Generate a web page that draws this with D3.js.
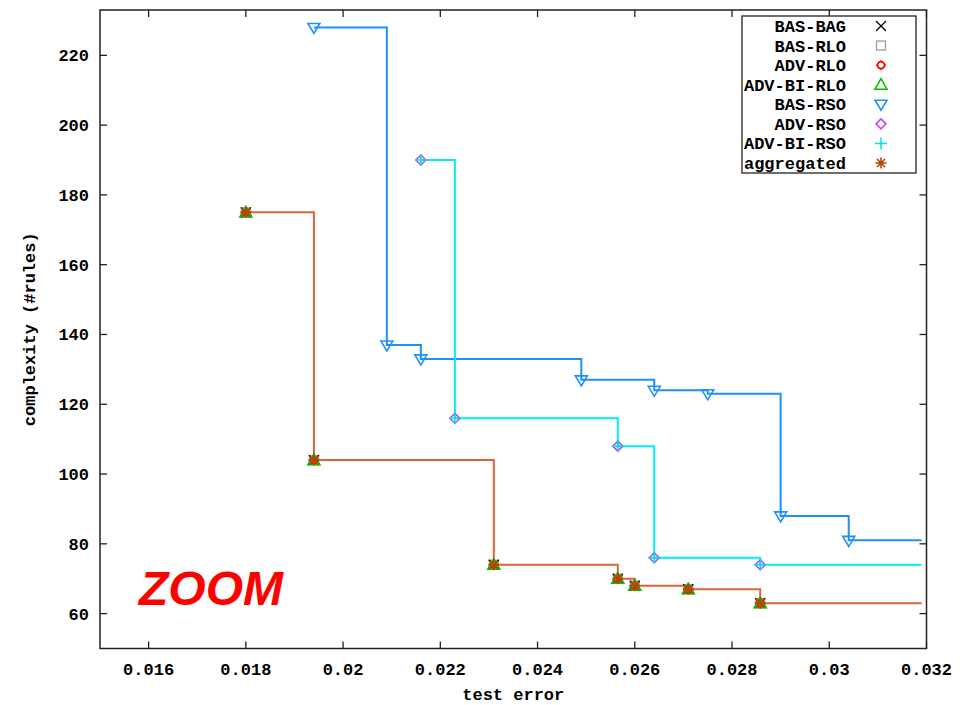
<!DOCTYPE html>
<html>
<head>
<meta charset="utf-8">
<script src="https://cdn.jsdelivr.net/npm/d3@7"></script>
<style>
  body { margin: 0; background: #fff; }
  svg text { font-family: "Liberation Mono", "DejaVu Sans Mono", monospace; font-weight: bold; font-size: 17px; fill: #000; }
</style>
</head>
<body>
<svg id="chart" width="975" height="705"></svg>
<script>

// BAS-RSO front
const basRsoErr   = [0.0194, 0.0209, 0.0216, 0.0249, 0.0264, 0.0275, 0.0290, 0.0304];
const basRsoRules = [228, 137, 133, 127, 124, 123, 88, 81];

// ADV-RSO / ADV-BI-RSO front (same points)
const advRsoErr   = [0.0216, 0.0223, 0.02565, 0.0264, 0.02858];
const advRsoRules = [190, 116, 108, 76, 74];

// RLO / BAG / aggregated front (same points)
const aggErr   = [0.0180, 0.0194, 0.0231, 0.02565, 0.0260, 0.0271, 0.02858];
const aggRules = [175, 104, 74, 70, 68, 67, 63];

const lineEnd = 0.0319;

const xTicks = [0.016, 0.018, 0.02, 0.022, 0.024, 0.026, 0.028, 0.03, 0.032];
const yTicks = [60, 80, 100, 120, 140, 160, 180, 200, 220];

const legendItems = [
  { label: "BAS-BAG",    symbol: "x",        color: "#000000" },
  { label: "BAS-RLO",    symbol: "square",   color: "#a0a0a0" },
  { label: "ADV-RLO",    symbol: "circle",   color: "#ff0000" },
  { label: "ADV-BI-RLO", symbol: "triangle", color: "#00c000" },
  { label: "BAS-RSO",    symbol: "tridown",  color: "#1e90ff" },
  { label: "ADV-RSO",    symbol: "diamond",  color: "#c040ff" },
  { label: "ADV-BI-RSO", symbol: "plus",     color: "#00e0e0" },
  { label: "aggregated", symbol: "star",     color: "#c04000" }
];

const margin = { top: 10, right: 49, bottom: 56, left: 100 };
const width = 975, height = 705;

const svg = d3.select("#chart");

const xScale = d3.scaleLinear()
  .domain([0.015, 0.032])
  .range([margin.left, width - margin.right + 0.5]);

const yScale = d3.scaleLinear()
  .domain([50, 233])
  .range([height - margin.bottom - 0.5, margin.top]);

const x0 = xScale.range()[0], x1 = xScale.range()[1];
const y0 = yScale.range()[0], y1 = yScale.range()[1];

// Draw a point symbol centred at (cx, cy)
const drawSymbol = (g, type, color, cx, cy) => {
  const s = g.append("g").attr("transform", `translate(${cx},${cy})`)
    .attr("fill", "none").attr("stroke", color).attr("stroke-width", 1.3);
  if (type === "x") {
    s.append("path").attr("d", "M-5,-5L5,5M-5,5L5,-5");
  } else if (type === "square") {
    s.append("rect").attr("x", -4.5).attr("y", -4.5).attr("width", 9).attr("height", 9);
  } else if (type === "circle") {
    s.append("circle").attr("r", 3.5).attr("stroke-width", 1.8);
    s.append("path").attr("d", "M0,-5V-3.5M0,5V3.5M-5,0H-3.5M5,0H3.5");
  } else if (type === "triangle") {
    s.append("path").attr("d", "M0,-6L6,4.5H-6Z").attr("stroke-width", 1.6);
  } else if (type === "tridown") {
    s.append("path").attr("d", "M-6,-4H6L0,6Z").attr("stroke-width", 1.6);
  } else if (type === "diamond") {
    s.append("path").attr("d", "M0,-5L5,0L0,5L-5,0Z").attr("stroke-width", 1.5);
  } else if (type === "plus") {
    s.append("path").attr("d", "M0,-6V6M-6,0H6").attr("stroke-width", 1.5);
  } else if (type === "star") {
    s.append("path").attr("d", "M0,-5.5V5.5M-5.5,0H5.5M-4,-4L4,4M-4,4L4,-4").attr("stroke-width", 1.6);
  }
};

// Step lines (horizontal first, then down), extended to the right
const stepLine = d3.line()
  .x(d => xScale(d[0]))
  .y(d => yScale(d[1]))
  .curve(d3.curveStepAfter);

const fronts = [
  { err: basRsoErr, rules: basRsoRules, color: "#2090f8" },
  { err: advRsoErr, rules: advRsoRules, color: "#00f0f0" },
  { err: aggErr,    rules: aggRules,    color: "#d8663a" }
];

fronts.forEach(f => {
  const pts = f.err.map((e, i) => [e, f.rules[i]]);
  pts.push([lineEnd, f.rules[f.rules.length - 1]]);
  svg.append("path")
    .datum(pts)
    .attr("fill", "none")
    .attr("stroke", f.color)
    .attr("stroke-width", 2)
    .attr("d", stepLine);
});

// Points
const pointLayer = svg.append("g");
const pointSets = [
  { err: aggErr,    rules: aggRules,    items: ["BAS-RLO", "BAS-BAG", "ADV-RLO", "ADV-BI-RLO", "aggregated"] },
  { err: basRsoErr, rules: basRsoRules, items: ["BAS-RSO"] },
  { err: advRsoErr, rules: advRsoRules, items: ["ADV-RSO", "ADV-BI-RSO"] }
];
pointSets.forEach(set => {
  set.items.forEach(name => {
    const item = legendItems.find(l => l.label === name);
    set.err.forEach((e, i) => {
      drawSymbol(pointLayer, item.symbol, item.color, xScale(e), yScale(set.rules[i]));
    });
  });
});

// Frame
svg.append("rect")
  .attr("x", x0).attr("y", y1)
  .attr("width", x1 - x0).attr("height", y0 - y1)
  .attr("fill", "none").attr("stroke", "#222").attr("stroke-width", 1.5);

// Ticks on all four sides, pointing inward
const tickLen = 7;
const ticks = svg.append("g").attr("stroke", "#222").attr("stroke-width", 1.3);
xTicks.forEach(t => {
  const x = xScale(t);
  ticks.append("line").attr("x1", x).attr("x2", x).attr("y1", y0).attr("y2", y0 - tickLen);
  ticks.append("line").attr("x1", x).attr("x2", x).attr("y1", y1).attr("y2", y1 + tickLen);
});
yTicks.forEach(t => {
  const y = yScale(t);
  ticks.append("line").attr("x1", x0).attr("x2", x0 + tickLen).attr("y1", y).attr("y2", y);
  ticks.append("line").attr("x1", x1).attr("x2", x1 - tickLen).attr("y1", y).attr("y2", y);
});

// Tick labels
svg.append("g")
  .selectAll("text")
  .data(xTicks)
  .join("text")
    .attr("x", d => xScale(d))
    .attr("y", 675)
    .attr("text-anchor", "middle")
    .text(d => d);

svg.append("g")
  .selectAll("text")
  .data(yTicks)
  .join("text")
    .attr("x", 89)
    .attr("y", d => yScale(d))
    .attr("dy", "0.35em")
    .attr("text-anchor", "end")
    .text(d => d);

// Axis titles
svg.append("text")
  .attr("x", (x0 + x1) / 2)
  .attr("y", 700)
  .attr("text-anchor", "middle")
  .text("test error");

svg.append("text")
  .attr("transform", `translate(35,${(y0 + y1) / 2}) rotate(-90)`)
  .attr("text-anchor", "middle")
  .text("complexity (#rules)");

// Legend
const legend = svg.append("g");
legend.append("rect")
  .attr("x", 742).attr("y", 16)
  .attr("width", 174).attr("height", 157)
  .attr("fill", "#fff").attr("stroke", "#222").attr("stroke-width", 1.3);

legendItems.forEach((d, i) => {
  const cy = 26 + i * 19.57;
  legend.append("text")
    .attr("x", 846)
    .attr("y", cy)
    .attr("dy", "0.35em")
    .attr("text-anchor", "end")
    .text(d.label);
  drawSymbol(legend, d.symbol, d.color, 881, cy);
});

// ZOOM annotation
svg.append("text")
  .attr("x", 139)
  .attr("y", 605)
  .style("font-family", "'Liberation Sans', Arial, sans-serif")
  .style("font-style", "italic")
  .style("font-weight", "bold")
  .style("font-size", "48px")
  .style("fill", "#ff0000")
  .text("ZOOM");

</script>
</body>
</html>
